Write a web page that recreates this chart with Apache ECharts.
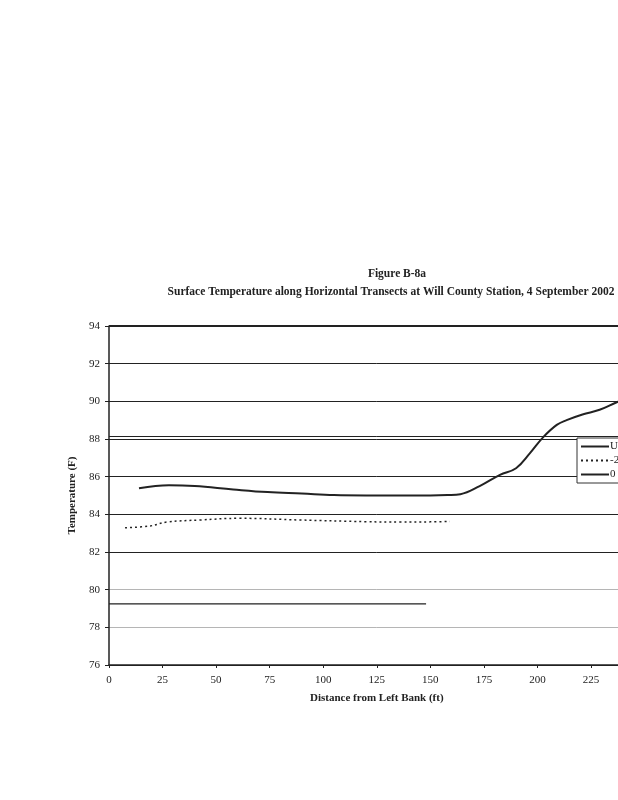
<!DOCTYPE html>
<html>
<head>
<meta charset="utf-8">
<script src="https://cdn.jsdelivr.net/npm/echarts@6/dist/echarts.min.js"></script>
<style>
html,body{margin:0;padding:0;background:#fff;overflow:hidden;width:618px;height:800px;}
#c{width:660px;height:800px;}
</style>
</head>
<body>
<div id="c"></div>
<script>
var titleText = "Figure B-8a";
var subtitleText = "Surface Temperature along Horizontal Transects at Will County Station, 4 September 2002";
var xTicks = [0, 25, 50, 75, 100, 125, 150, 175, 200, 225, 250];
var yTicks = [76, 78, 80, 82, 84, 86, 88, 90, 92, 94];
var seriesNames = ["Upstream", "-2 ft", "0 ft"];

var distU = [0, 25, 50, 100, 148];
var tempU = [79.25, 79.25, 79.25, 79.25, 79.25];

var distM2 = [7.5, 19, 27, 42.5, 61, 89, 120, 136, 150, 159];
var tempM2 = [83.29, 83.38, 83.59, 83.7, 83.79, 83.7, 83.61, 83.59, 83.6, 83.62];

var dist0 = [14, 28, 40, 58, 74, 90, 105, 120, 136, 150, 158, 164, 173, 182.5, 190, 196.5, 202.7, 209, 213.6, 221, 229, 237, 245];
var temp0 = [85.38, 85.54, 85.5, 85.32, 85.18, 85.1, 85.02, 85.0, 85.0, 85.0, 85.02, 85.07, 85.5, 86.1, 86.45, 87.25, 88.1, 88.75, 89.0, 89.3, 89.55, 89.95, 90.3];

function pairs(xs, ys){ return xs.map(function(x,i){ return [x, ys[i]]; }); }

var serif = "Liberation Serif";
var chart = echarts.init(document.getElementById('c'));
chart.setOption({
  animation: false,
  backgroundColor: '#fff',
  title: [
    {text: titleText, left: 392, top: 263, textAlign: 'center',
     textStyle: {fontFamily: serif, fontWeight: 'bold', fontSize: 11.5, color: '#222'}},
    {text: subtitleText, left: 386, top: 281, textAlign: 'center',
     textStyle: {fontFamily: serif, fontWeight: 'bold', fontSize: 11.5, color: '#222'}}
  ],
  legend: {
    left: 577, top: 438, orient: 'vertical',
    backgroundColor: '#fff', borderColor: '#333', borderWidth: 1,
    padding: [3, 4, 3, 3], itemGap: 3, itemWidth: 28, itemHeight: 12,
    itemStyle: {opacity: 0},
    textStyle: {fontFamily: serif, fontSize: 11, color: '#222', padding: [0,0,0,-4]},
    data: seriesNames
  },
  grid: {left: 109, top: 326, bottom: 135, right: 15.4, containLabel: false},
  xAxis: {
    type: 'value', min: 0, max: 250, interval: 25,
    name: 'Distance from Left Bank (ft)', nameLocation: 'middle', nameGap: 28,
    nameTextStyle: {fontFamily: serif, fontWeight: 'bold', fontSize: 11, color: '#222'},
    axisLine: {show: true, lineStyle: {color: '#222', width: 1.5}},
    axisTick: {show: true, length: 3, lineStyle: {color: '#222'}},
    axisLabel: {fontFamily: serif, fontSize: 11, color: '#222', margin: 10},
    splitLine: {show: false}
  },
  yAxis: {
    type: 'value', min: 76, max: 94, interval: 2,
    name: 'Temperature (F)', nameLocation: 'middle', nameGap: 22,
    nameTextStyle: {fontFamily: serif, fontWeight: 'bold', fontSize: 11, color: '#222'},
    axisLine: {show: true, lineStyle: {color: '#222', width: 1.5}},
    axisTick: {show: true, length: 4, lineStyle: {color: '#222'}},
    axisLabel: {fontFamily: serif, fontSize: 11, color: '#222', margin: 9},
    splitLine: {show: true, lineStyle: {width: 1,
      color: ['#222', '#b5b5b5', '#b5b5b5', '#222', '#222', '#222', '#222', '#222', '#222', '#222']}}
  },
  series: [
    {name: seriesNames[0], type: 'line', data: pairs(distU, tempU), symbol: 'none',
     lineStyle: {color: '#222', width: 1.2}, itemStyle: {color: '#222'},
     markLine: {silent: true, symbol: 'none', label: {show: false},
       data: [{yAxis: 88.13, lineStyle: {color: '#222', width: 1, type: 'solid'}},
              {yAxis: 94, lineStyle: {color: '#222', width: 2.2, type: 'solid'}}]}},
    {name: seriesNames[1], type: 'line', data: pairs(distM2, tempM2), symbol: 'none', smooth: 0.4,
     lineStyle: {color: '#222', width: 1.5, type: [2, 3]}, itemStyle: {color: '#222'}},
    {name: seriesNames[2], type: 'line', data: pairs(dist0, temp0), symbol: 'none', smooth: 0.4,
     lineStyle: {color: '#222', width: 2}, itemStyle: {color: '#222'}}
  ]
});
</script>
</body>
</html>
